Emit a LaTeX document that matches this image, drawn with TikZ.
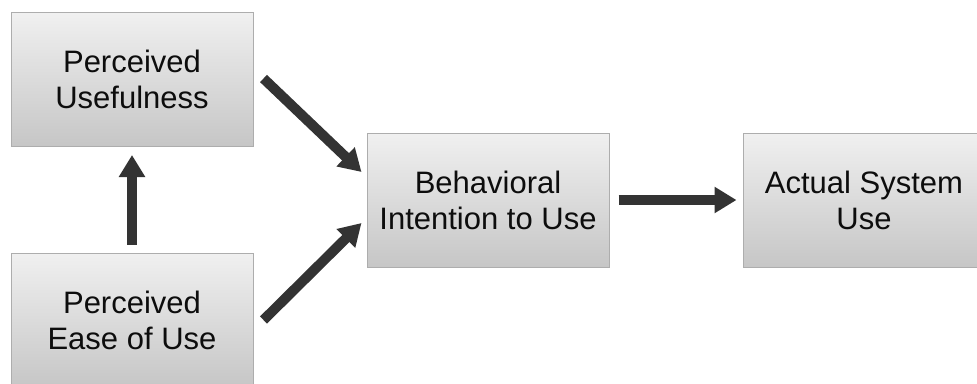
\documentclass[tikz,border=0pt]{standalone}
\usepackage{fontspec}
\setmainfont{Liberation Sans}
\usetikzlibrary{arrows.meta}
\definecolor{boxtop}{HTML}{F0F0F0}
\definecolor{boxbot}{HTML}{C6C6C6}
\definecolor{boxline}{HTML}{ADADAD}
\definecolor{arrowc}{HTML}{333333}
\tikzset{
  box/.style={draw=boxline, line width=1pt, top color=boxtop, bottom color=boxbot,
    minimum width=242pt, minimum height=134pt, inner sep=0pt, align=center,
    text=black!95},
  bigtxt/.style={font=\fontsize{31}{36}\selectfont},
  fat/.style={draw=arrowc, line width=10pt,
    -{Triangle[width=25pt,length=22pt,fill=arrowc]}}
}
\begin{document}
\begin{tikzpicture}[x=1pt,y=-1pt]
\clip (0,0) rectangle (977,383);
\fill[white] (0,0) rectangle (977,383);
\node[box,bigtxt] (pu) at (132,79.5) {Perceived\\Usefulness};
\node[box,bigtxt] (pe) at (132,320) {Perceived\\Ease of Use};
\node[box,bigtxt] (bi) at (488,200) {Behavioral\\Intention to Use};
\node[box,bigtxt] (au) at (864,200) {Actual System\\Use};
\draw[fat, shorten <=8pt, shorten >=8pt] (pe.north) -- (pu.south);
\draw[fat] ([xshift=10pt,yshift=1pt]pu.east) -- ([xshift=-5pt,yshift=28pt]bi.west);
\draw[fat] ([xshift=10pt]pe.east) -- ([xshift=-5pt,yshift=-23pt]bi.west);
\draw[fat, shorten <=9pt, shorten >=6pt] (bi.east) -- (au.west);
\end{tikzpicture}
\end{document}
